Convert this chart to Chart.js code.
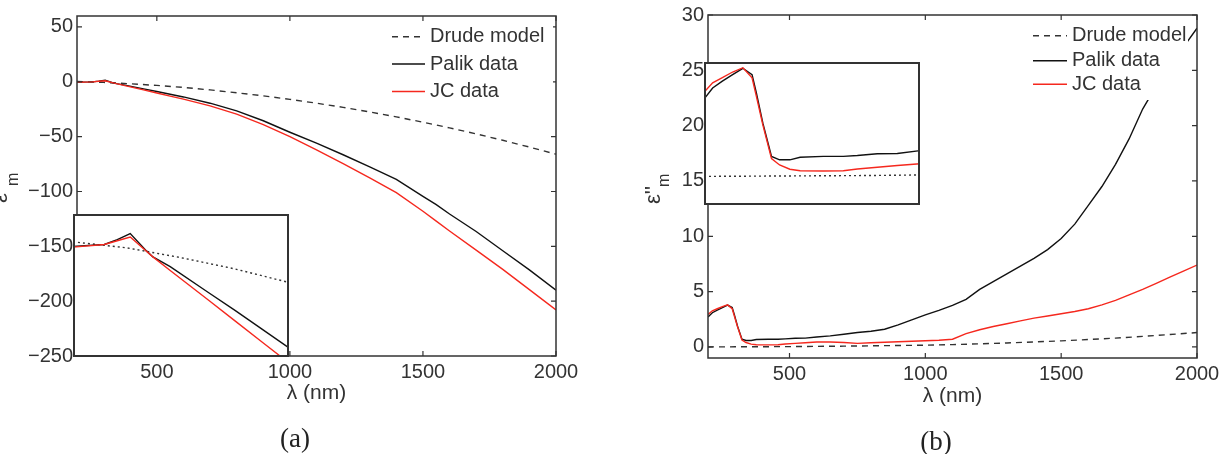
<!DOCTYPE html>
<html><head><meta charset="utf-8">
<script src="https://cdn.jsdelivr.net/npm/chart.js@4.4.0/dist/chart.umd.min.js"></script>
<style>
html,body{margin:0;padding:0;background:#fff;width:1221px;height:454px;overflow:hidden;}
body{position:relative;}
canvas{position:absolute;display:block;}
.cap{position:absolute;font-family:'Liberation Serif',serif;font-size:27px;color:#222;transform:translate(-50%,-50%);white-space:nowrap;}
</style></head><body>
<canvas id="ca" width="600" height="454" style="left:0;top:0;"></canvas>
<canvas id="cb" width="621" height="454" style="left:600px;top:0;"></canvas>
<canvas id="ia" width="216" height="143" style="left:73px;top:214px;"></canvas>
<canvas id="ib" width="216" height="143" style="left:704px;top:62px;"></canvas>
<div class="cap" style="left:295px;top:438px">(a)</div>
<div class="cap" style="left:936px;top:441px">(b)</div>
<script>
// ---------- data ----------
const seriesLabels = ['Drude model', 'Palik data', 'JC data'];
const xTicks = [500, 1000, 1500, 2000];
const yTicksRe = [-250, -200, -150, -100, -50, 0, 50];
const yTicksIm = [0, 5, 10, 15, 20, 25, 30];

// real part (panel a)
const lambdaRe = [200,258,282,306,336,348,380,450,500,550,600,700,800,900,1000,1100,1200,1300,1400,1500,1550,1600,1700,1800,1900,2000];
const palikRe = [-0.3,-0.05,0.6,1.4,-0.9,-1.7,-3.0,-6.4,-8.8,-11.3,-13.8,-19.5,-26.5,-35.5,-46,-56,-66.5,-77.5,-89,-104.5,-112,-120.5,-136.5,-154,-171.5,-190];
const jcRe = [-0.4,-0.05,0.45,0.94,-0.95,-1.7,-3.5,-7.4,-10.2,-13.0,-15.8,-22,-29.5,-39,-50,-62,-74.5,-87.5,-101,-118,-127,-136,-153.5,-171,-189.5,-208];

// Drude model
const lambdaDrude = [200,300,400,500,600,700,800,900,1000,1100,1200,1300,1400,1500,1600,1700,1800,1900,2000];
const drudeRe = [0.3,-0.5,-1.8,-3.3,-5.1,-7.4,-10.0,-12.8,-16.0,-19.5,-23.3,-27.5,-32.0,-36.8,-42.0,-47.5,-53.3,-59.5,-66.0];
const drudeIm = [0.0,0.01,0.02,0.03,0.05,0.07,0.1,0.13,0.16,0.21,0.28,0.36,0.45,0.55,0.67,0.8,0.95,1.12,1.3];

// imaginary part (panel b)
const lambdaIm = [200,216,234,253,272,289,297,309,325,340,359,378,421,458,484,521,558,600,650,700,750,800,850,900,950,1000,1050,1100,1150,1200,1250,1300,1350,1400,1450,1500,1550,1600,1650,1700,1750,1800,1850,1900,1950,2000];
const palikIm = [2.7,3.09,3.33,3.56,3.78,3.56,2.92,1.86,0.7,0.58,0.58,0.67,0.7,0.7,0.73,0.79,0.8,0.9,1.0,1.15,1.3,1.42,1.6,2.0,2.45,2.9,3.3,3.75,4.3,5.2,5.9,6.6,7.3,8.0,8.8,9.8,11.1,12.8,14.5,16.5,18.8,21.5,23.6,25.4,27.1,28.8];
const jcIm = [2.94,3.27,3.45,3.65,3.8,3.45,2.8,1.8,0.62,0.4,0.25,0.2,0.19,0.2,0.26,0.32,0.38,0.44,0.45,0.4,0.32,0.38,0.42,0.47,0.52,0.56,0.6,0.7,1.2,1.55,1.85,2.1,2.35,2.6,2.8,3.0,3.2,3.45,3.8,4.2,4.7,5.2,5.75,6.3,6.85,7.4];

// ---------- styling ----------
const FONT = '"Liberation Sans", Arial, sans-serif';
const TXT = '#333';
const AXC = '#333';
const toXY = (xs, ys) => xs.map((x, i) => ({ x: x, y: ys[i] }));
const fmt = v => String(v).replace('-', '\u2212');

const framePlugin = {
  id: 'frame',
  beforeDraw(chart, args, o) {
    if (o.bg) { const c = chart.ctx; c.save(); c.fillStyle = '#fff'; c.fillRect(0, 0, chart.width, chart.height); c.restore(); }
  },
  afterDatasetsDraw(chart, args, o) {
    const ctx = chart.ctx, a = chart.chartArea, sx = chart.scales.x, sy = chart.scales.y;
    ctx.save();
    ctx.strokeStyle = AXC;
    ctx.lineWidth = o.lw || 1.5;
    if (o.ticks) {
      const L = 5;
      ctx.beginPath();
      o.xt.forEach(v => {
        const p = sx.getPixelForValue(v);
        ctx.moveTo(p, a.bottom); ctx.lineTo(p, a.bottom - L);
        ctx.moveTo(p, a.top); ctx.lineTo(p, a.top + L);
      });
      o.yt.forEach(v => {
        const p = sy.getPixelForValue(v);
        ctx.moveTo(a.left, p); ctx.lineTo(a.left + L, p);
        ctx.moveTo(a.right, p); ctx.lineTo(a.right - L, p);
      });
      ctx.lineWidth = 1.2;
      ctx.stroke();
    }
    ctx.lineWidth = o.lw || 1.5;
    const h = ctx.lineWidth / 2;
    if (o.inset) ctx.strokeRect(a.left + h, a.top + h, a.right - a.left - 2 * h, a.bottom - a.top - 2 * h);
    else ctx.strokeRect(a.left, a.top, a.right - a.left, a.bottom - a.top);

    // legend
    if (o.legend) {
      const g = o.legend;
      ctx.fillStyle = '#fff';
      ctx.fillRect(g.box[0], g.box[1], g.box[2], g.box[3]);
      chart.data.datasets.forEach((ds, i) => {
        const y = g.rows[i];
        ctx.beginPath();
        ctx.strokeStyle = ds.borderColor;
        ctx.lineWidth = ds.borderWidth;
        ctx.setLineDash(ds.borderDash || []);
        ctx.moveTo(g.x0, y); ctx.lineTo(g.x1, y);
        ctx.stroke();
        ctx.setLineDash([]);
        ctx.fillStyle = TXT;
        ctx.font = '20px ' + FONT;
        ctx.textAlign = 'left';
        ctx.textBaseline = 'middle';
        ctx.fillText(ds.label, g.tx, y);
      });
    }
    // x title
    if (o.xtitle) {
      ctx.fillStyle = TXT;
      ctx.font = '21px ' + FONT;
      ctx.textAlign = 'center';
      ctx.textBaseline = 'middle';
      ctx.fillText(o.xtitle.text, (a.left + a.right) / 2, a.bottom + o.xtitle.dy);
    }
    // y title (rotated, with subscript)
    if (o.ytitle) {
      const t = o.ytitle;
      ctx.fillStyle = TXT;
      ctx.textAlign = 'left';
      ctx.textBaseline = 'alphabetic';
      ctx.save();
      ctx.translate(t.bx, 0);
      ctx.rotate(-Math.PI / 2);
      ctx.font = '22px ' + FONT;
      ctx.fillText(t.main, -t.y0, 0);
      ctx.font = '16px ' + FONT;
      ctx.fillText(t.sub, -t.y1, t.subDy);
      ctx.restore();
    }
    ctx.restore();
  }
};

function mainScales(xmin, xmax, ymin, ymax, yt, yw, xpad) {
  return {
    x: {
      type: 'linear', min: xmin, max: xmax,
      grid: { display: false, drawTicks: false }, border: { display: false },
      afterBuildTicks: s => { s.ticks = xTicks.map(v => ({ value: v })); },
      afterFit: s => { s.height = 40; s.paddingLeft = 0; s.paddingRight = 0; },
      ticks: { padding: xpad, maxRotation: 0, autoSkip: false, color: TXT, font: { family: FONT, size: 20 }, callback: fmt }
    },
    y: {
      type: 'linear', min: ymin, max: ymax,
      grid: { display: false, drawTicks: false }, border: { display: false },
      afterBuildTicks: s => { s.ticks = yt.map(v => ({ value: v })); },
      afterFit: s => { s.width = yw; s.paddingTop = 0; s.paddingBottom = 0; },
      ticks: { padding: 4, autoSkip: false, color: TXT, font: { family: FONT, size: 20 }, callback: fmt }
    }
  };
}

function datasets(drudeY, lam, palik, jc, dash, lw) {
  return [
    { label: seriesLabels[0], data: toXY(lambdaDrude, drudeY), borderColor: '#333', borderDash: dash, borderWidth: lw, order: 2 },
    { label: seriesLabels[1], data: toXY(lam, palik), borderColor: '#111', borderWidth: lw, order: 1 },
    { label: seriesLabels[2], data: toXY(lam, jc), borderColor: '#f5281e', borderWidth: lw, order: 0 }
  ];
}

const common = {
  responsive: false, animation: false, devicePixelRatio: 1,
  elements: { point: { radius: 0 }, line: { tension: 0 } },
  events: []
};

// Panel (a) main
new Chart(document.getElementById('ca'), {
  type: 'line',
  data: { datasets: datasets(drudeRe, lambdaRe, palikRe, jcRe, [6, 5], 1.4) },
  options: Object.assign({}, common, {
    layout: { autoPadding: false, padding: { left: 0, top: 16, right: 44, bottom: 58 } },
    scales: mainScales(200, 2000, -250, 60, yTicksRe, 77, 4),
    plugins: {
      legend: { display: false }, tooltip: { enabled: false },
      frame: {
        ticks: true, xt: xTicks, yt: yTicksRe, lw: 1.5,
        legend: { box: [386, 22, 167, 82], x0: 392, x1: 425, tx: 430, rows: [36.7, 64, 91.5] },
        xtitle: { text: '\u03bb (nm)', dy: 37 },
        ytitle: { bx: 7, main: "\u03b5'", y0: 203, sub: 'm', y1: 186, subDy: 11 }
      }
    }
  }),
  plugins: [framePlugin]
});

// Panel (b) main
new Chart(document.getElementById('cb'), {
  type: 'line',
  data: { datasets: datasets(drudeIm, lambdaIm, palikIm, jcIm, [6, 5], 1.4) },
  options: Object.assign({}, common, {
    layout: { autoPadding: false, padding: { left: 0, top: 15, right: 24, bottom: 56 } },
    scales: mainScales(200, 2000, -1, 30, yTicksIm, 108, 4),
    plugins: {
      legend: { display: false }, tooltip: { enabled: false },
      frame: {
        ticks: true, xt: xTicks, yt: yTicksIm, lw: 1.5,
        legend: { box: [428, 22, 160, 78], x0: 433, x1: 467, tx: 472, rows: [35.8, 60.8, 84.2] },
        xtitle: { text: '\u03bb (nm)', dy: 38 },
        ytitle: { bx: 60, main: "\u03b5''", y0: 204, sub: 'm', y1: 187, subDy: 9 }
      }
    }
  }),
  plugins: [framePlugin]
});

// insets
function insetScales(ymin, ymax) {
  return {
    x: { type: 'linear', min: 200, max: 600, display: false },
    y: { type: 'linear', min: ymin, max: ymax, display: false }
  };
}
new Chart(document.getElementById('ia'), {
  type: 'line',
  data: { datasets: datasets(drudeRe, lambdaRe, palikRe, jcRe, [2, 3], 1.4) },
  options: Object.assign({}, common, {
    layout: { autoPadding: false, padding: 0 },
    scales: insetScales(-15, 4),
    plugins: { legend: { display: false }, tooltip: { enabled: false }, frame: { bg: true, inset: true, lw: 2 } }
  }),
  plugins: [framePlugin]
});
new Chart(document.getElementById('ib'), {
  type: 'line',
  data: { datasets: datasets(drudeIm, lambdaIm, palikIm, jcIm, [2, 3], 1.4) },
  options: Object.assign({}, common, {
    layout: { autoPadding: false, padding: 0 },
    scales: insetScales(-1, 4),
    plugins: { legend: { display: false }, tooltip: { enabled: false }, frame: { bg: true, inset: true, lw: 2 } }
  }),
  plugins: [framePlugin]
});
</script>
</body></html>
